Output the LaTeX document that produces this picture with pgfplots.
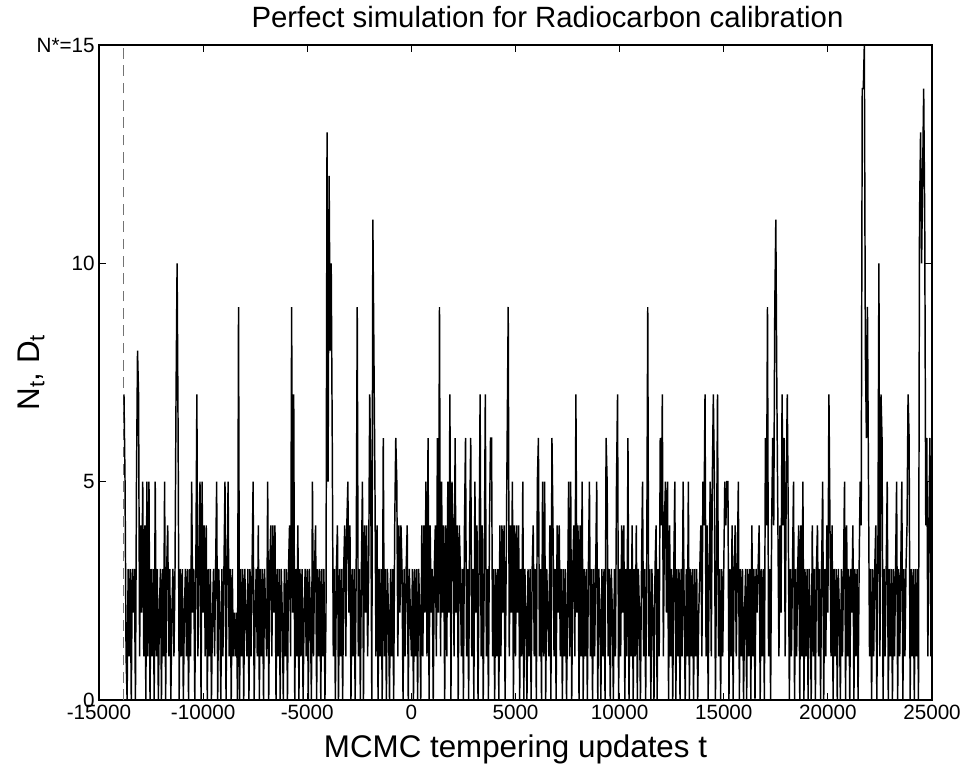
\documentclass[border=0pt]{standalone}
\usepackage{fontspec}
\setmainfont{Liberation Sans}
\usepackage{pgfplots}
\usepackage{pgfplotstable}
\pgfplotsset{compat=1.18}

% N_t values, one every 50 updates from t=-13800 to t=25000
\pgfplotstableread[row sep=\\]{
y\\
7\\5\\1\\0\\3\\1\\3\\0\\3\\2\\
3\\0\\5\\8\\7\\1\\4\\2\\5\\1\\
4\\0\\5\\1\\5\\0\\3\\1\\3\\0\\
5\\1\\3\\0\\2\\3\\0\\3\\1\\5\\
0\\3\\4\\1\\3\\0\\2\\3\\1\\3\\
7\\10\\6\\0\\3\\1\\3\\0\\2\\3\\
1\\3\\0\\3\\1\\5\\2\\3\\0\\3\\
7\\1\\3\\5\\0\\5\\2\\4\\1\\4\\
0\\3\\1\\3\\0\\2\\3\\1\\3\\5\\
0\\3\\2\\0\\3\\1\\3\\5\\0\\3\\
5\\1\\3\\0\\3\\1\\2\\1\\2\\0\\
9\\0\\3\\1\\3\\0\\3\\2\\1\\3\\
0\\3\\1\\3\\5\\0\\2\\3\\1\\4\\
0\\3\\1\\3\\0\\3\\2\\1\\5\\0\\
3\\4\\1\\4\\2\\4\\0\\3\\1\\3\\
0\\3\\2\\0\\3\\1\\3\\0\\3\\4\\
1\\9\\2\\7\\0\\3\\1\\4\\0\\3\\
1\\3\\0\\2\\3\\1\\3\\0\\3\\2\\
0\\5\\1\\3\\4\\0\\3\\1\\3\\0\\
3\\1\\3\\0\\2\\13\\5\\12\\8\\10\\
6\\1\\3\\0\\3\\4\\0\\3\\1\\3\\
0\\3\\4\\1\\4\\5\\2\\4\\0\\3\\
1\\3\\0\\3\\9\\1\\3\\0\\3\\5\\
0\\4\\2\\4\\1\\3\\7\\5\\0\\11\\
8\\5\\1\\4\\0\\3\\1\\3\\0\\6\\
1\\3\\0\\3\\2\\0\\3\\1\\3\\0\\
4\\6\\5\\1\\4\\2\\4\\3\\0\\3\\
1\\3\\4\\0\\3\\2\\1\\3\\0\\3\\
1\\3\\0\\3\\2\\0\\4\\1\\4\\2\\
5\\1\\6\\0\\4\\2\\3\\0\\3\\4\\
1\\6\\2\\9\\1\\5\\2\\4\\0\\4\\
1\\5\\2\\7\\0\\5\\4\\1\\6\\2\\
4\\0\\4\\3\\1\\3\\0\\4\\6\\1\\
3\\0\\4\\6\\1\\3\\0\\5\\2\\4\\
0\\3\\7\\1\\4\\0\\3\\7\\1\\3\\
0\\4\\6\\6\\1\\3\\0\\3\\1\\3\\
0\\4\\1\\4\\2\\4\\0\\3\\6\\9\\
1\\4\\2\\5\\0\\4\\1\\4\\2\\4\\
0\\3\\1\\5\\0\\3\\2\\0\\3\\1\\
3\\0\\3\\4\\1\\3\\0\\5\\6\\1\\
3\\0\\5\\1\\5\\0\\3\\2\\1\\4\\
0\\6\\4\\1\\3\\0\\4\\2\\4\\1\\
3\\0\\3\\1\\3\\0\\2\\5\\1\\5\\
0\\3\\4\\1\\7\\2\\4\\0\\4\\1\\
5\\0\\3\\1\\3\\0\\3\\5\\1\\3\\
0\\3\\1\\3\\5\\0\\3\\2\\0\\3\\
1\\3\\0\\6\\5\\1\\3\\0\\3\\2\\
0\\3\\1\\5\\7\\0\\3\\1\\4\\2\\
4\\0\\3\\1\\6\\0\\3\\1\\4\\0\\
3\\1\\4\\0\\3\\2\\0\\3\\5\\1\\
3\\0\\3\\9\\1\\3\\0\\3\\2\\0\\
3\\4\\0\\3\\1\\6\\4\\7\\1\\4\\
5\\2\\5\\0\\4\\1\\3\\0\\3\\5\\
0\\3\\1\\3\\0\\3\\1\\5\\2\\0\\
3\\1\\5\\0\\3\\1\\3\\0\\3\\1\\
3\\0\\2\\3\\4\\1\\5\\4\\7\\1\\
4\\0\\3\\5\\1\\5\\7\\5\\0\\3\\
7\\1\\3\\0\\3\\1\\3\\5\\4\\5\\
5\\0\\3\\1\\4\\0\\3\\4\\1\\3\\
5\\0\\3\\1\\3\\0\\2\\3\\0\\3\\
1\\3\\0\\4\\1\\3\\0\\3\\2\\3\\
4\\0\\3\\1\\3\\0\\6\\4\\9\\1\\
3\\0\\4\\6\\4\\9\\11\\7\\4\\1\\
4\\2\\7\\4\\6\\1\\5\\7\\4\\0\\
3\\1\\3\\5\\0\\3\\1\\3\\4\\0\\
4\\1\\5\\0\\3\\1\\3\\0\\3\\2\\
0\\4\\1\\3\\0\\3\\4\\1\\3\\0\\
3\\5\\0\\3\\1\\4\\2\\7\\4\\1\\
4\\0\\3\\1\\3\\0\\3\\2\\0\\3\\
1\\3\\5\\0\\4\\1\\3\\0\\3\\2\\
4\\0\\3\\1\\3\\0\\3\\5\\4\\14\\
14\\15\\8\\6\\9\\5\\1\\3\\0\\3\\
1\\3\\4\\0\\3\\10\\1\\7\\6\\0\\
3\\1\\3\\5\\0\\3\\1\\3\\0\\3\\
1\\3\\5\\0\\3\\1\\3\\5\\0\\3\\
1\\3\\4\\7\\6\\0\\3\\1\\3\\0\\
3\\1\\3\\0\\11\\13\\10\\12\\14\\11\\
4\\6\\1\\4\\6\\1\\6\\
}\ntdata

\begin{document}
\begin{tikzpicture}
\begin{axis}[
    at={(0,0)}, anchor=south west,
    scale only axis,
    width=624.75pt, height=491.25pt,
    xmin=-15000, xmax=25000,
    ymin=0, ymax=15,
    scaled x ticks=false,
    xtick={-15000,-10000,-5000,0,5000,10000,15000,20000,25000},
    xticklabels={-15000,-10000,-5000,0,5000,10000,15000,20000,25000},
    ytick={0,5,10,15},
    yticklabels={0,5,10,N*=15},
    tick align=inside,
    major tick length=5.5pt,
    tick style={black, line width=0.6pt},
    axis line style={line width=0.8pt},
    tick label style={font=\fontsize{15.5}{17}\selectfont},
    xticklabel style={anchor=base, yshift=-14.5pt, inner sep=0.5pt},
    yticklabel style={inner sep=1pt, xshift=-2pt},
    title={Perfect simulation for Radiocarbon calibration},
    title style={font=\fontsize{22}{25}\selectfont, at={(axis description cs:0.5,1)}, anchor=base, yshift=7pt, xshift=24pt},
    xlabel={MCMC tempering updates t},
    xlabel style={font=\fontsize{23.5}{27}\selectfont, at={(axis description cs:0.5,0)}, anchor=base, yshift=-42.75pt},
    ylabel={N\textsubscript{t}, D\textsubscript{t}},
    ylabel style={font=\fontsize{23.5}{27}\selectfont, at={(axis description cs:-0.065,0.5)}, anchor=south, inner sep=0pt},
]
% start of the sampling window
\addplot[black!55, line width=0.6pt, dash pattern=on 8pt off 5pt] coordinates {(-13850,0) (-13850,15)};
\addplot[black, line width=1.1pt, mark=none] table[x expr={-13800+50*\coordindex}, y=y] {\ntdata};
\end{axis}
\pgfresetboundingbox
\useasboundingbox (-74.25pt,-48.75pt) rectangle (647.25pt,525pt);
\end{tikzpicture}
\end{document}
